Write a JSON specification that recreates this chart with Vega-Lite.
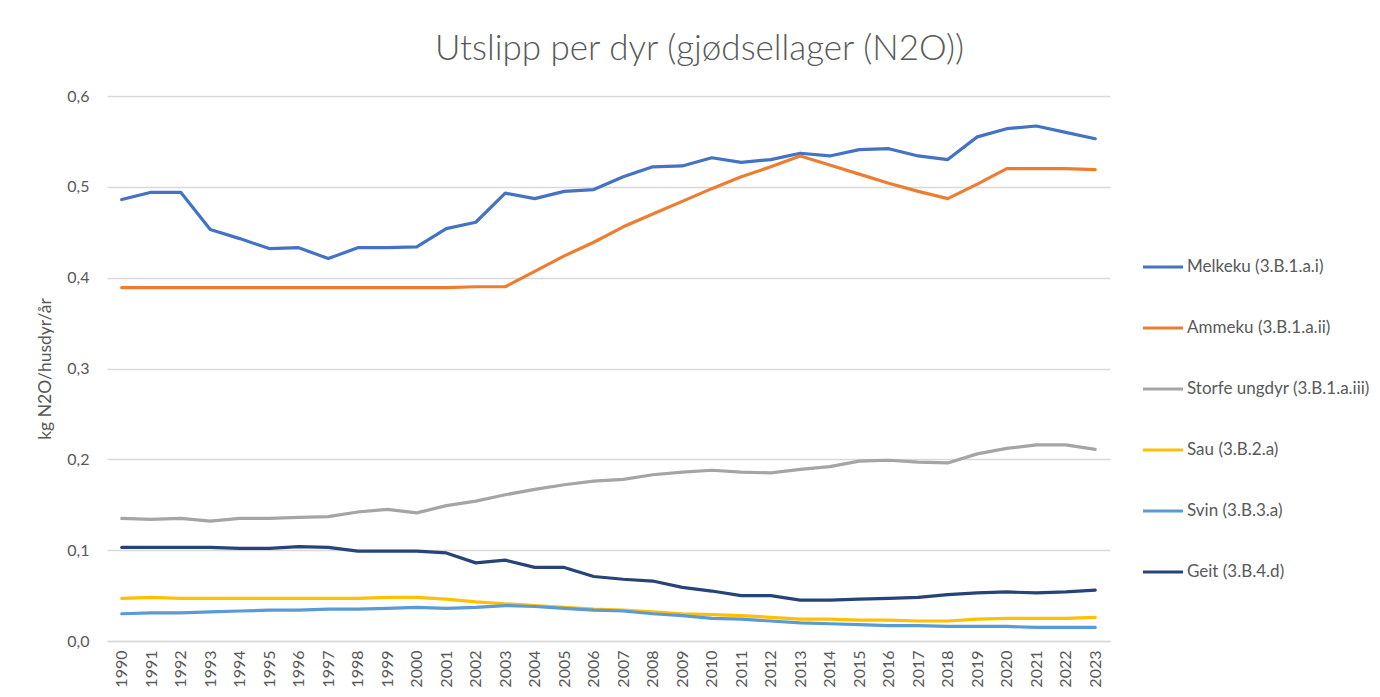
{
  "$schema": "https://vega.github.io/schema/vega-lite/v6.json",
  "width": 1003,
  "height": 545,
  "autosize": {"type": "none"},
  "padding": {"left": 107, "top": 96, "right": 270, "bottom": 56},
  "background": "white",
  "title": {
    "text": "Utslipp per dyr (gjødsellager (N2O))",
    "anchor": "middle",
    "frame": "group",
    "dx": 91,
    "offset": 21,
    "font": "Lato",
    "fontSize": 35,
    "fontWeight": 300,
    "color": "#595959"
  },
  "config": {
    "view": {"stroke": null},
    "font": "Lato"
  },
  "data": {
    "values": [
      {"year": "1990", "serie": "Melkeku (3.B.1.a.i)", "value": 0.486},
      {"year": "1991", "serie": "Melkeku (3.B.1.a.i)", "value": 0.494},
      {"year": "1992", "serie": "Melkeku (3.B.1.a.i)", "value": 0.494},
      {"year": "1993", "serie": "Melkeku (3.B.1.a.i)", "value": 0.453},
      {"year": "1994", "serie": "Melkeku (3.B.1.a.i)", "value": 0.443},
      {"year": "1995", "serie": "Melkeku (3.B.1.a.i)", "value": 0.432},
      {"year": "1996", "serie": "Melkeku (3.B.1.a.i)", "value": 0.433},
      {"year": "1997", "serie": "Melkeku (3.B.1.a.i)", "value": 0.421},
      {"year": "1998", "serie": "Melkeku (3.B.1.a.i)", "value": 0.433},
      {"year": "1999", "serie": "Melkeku (3.B.1.a.i)", "value": 0.433},
      {"year": "2000", "serie": "Melkeku (3.B.1.a.i)", "value": 0.434},
      {"year": "2001", "serie": "Melkeku (3.B.1.a.i)", "value": 0.454},
      {"year": "2002", "serie": "Melkeku (3.B.1.a.i)", "value": 0.461},
      {"year": "2003", "serie": "Melkeku (3.B.1.a.i)", "value": 0.493},
      {"year": "2004", "serie": "Melkeku (3.B.1.a.i)", "value": 0.487},
      {"year": "2005", "serie": "Melkeku (3.B.1.a.i)", "value": 0.495},
      {"year": "2006", "serie": "Melkeku (3.B.1.a.i)", "value": 0.497},
      {"year": "2007", "serie": "Melkeku (3.B.1.a.i)", "value": 0.511},
      {"year": "2008", "serie": "Melkeku (3.B.1.a.i)", "value": 0.522},
      {"year": "2009", "serie": "Melkeku (3.B.1.a.i)", "value": 0.523},
      {"year": "2010", "serie": "Melkeku (3.B.1.a.i)", "value": 0.532},
      {"year": "2011", "serie": "Melkeku (3.B.1.a.i)", "value": 0.527},
      {"year": "2012", "serie": "Melkeku (3.B.1.a.i)", "value": 0.530},
      {"year": "2013", "serie": "Melkeku (3.B.1.a.i)", "value": 0.537},
      {"year": "2014", "serie": "Melkeku (3.B.1.a.i)", "value": 0.534},
      {"year": "2015", "serie": "Melkeku (3.B.1.a.i)", "value": 0.541},
      {"year": "2016", "serie": "Melkeku (3.B.1.a.i)", "value": 0.542},
      {"year": "2017", "serie": "Melkeku (3.B.1.a.i)", "value": 0.534},
      {"year": "2018", "serie": "Melkeku (3.B.1.a.i)", "value": 0.530},
      {"year": "2019", "serie": "Melkeku (3.B.1.a.i)", "value": 0.555},
      {"year": "2020", "serie": "Melkeku (3.B.1.a.i)", "value": 0.564},
      {"year": "2021", "serie": "Melkeku (3.B.1.a.i)", "value": 0.567},
      {"year": "2022", "serie": "Melkeku (3.B.1.a.i)", "value": 0.560},
      {"year": "2023", "serie": "Melkeku (3.B.1.a.i)", "value": 0.553},

      {"year": "1990", "serie": "Ammeku (3.B.1.a.ii)", "value": 0.389},
      {"year": "1991", "serie": "Ammeku (3.B.1.a.ii)", "value": 0.389},
      {"year": "1992", "serie": "Ammeku (3.B.1.a.ii)", "value": 0.389},
      {"year": "1993", "serie": "Ammeku (3.B.1.a.ii)", "value": 0.389},
      {"year": "1994", "serie": "Ammeku (3.B.1.a.ii)", "value": 0.389},
      {"year": "1995", "serie": "Ammeku (3.B.1.a.ii)", "value": 0.389},
      {"year": "1996", "serie": "Ammeku (3.B.1.a.ii)", "value": 0.389},
      {"year": "1997", "serie": "Ammeku (3.B.1.a.ii)", "value": 0.389},
      {"year": "1998", "serie": "Ammeku (3.B.1.a.ii)", "value": 0.389},
      {"year": "1999", "serie": "Ammeku (3.B.1.a.ii)", "value": 0.389},
      {"year": "2000", "serie": "Ammeku (3.B.1.a.ii)", "value": 0.389},
      {"year": "2001", "serie": "Ammeku (3.B.1.a.ii)", "value": 0.389},
      {"year": "2002", "serie": "Ammeku (3.B.1.a.ii)", "value": 0.390},
      {"year": "2003", "serie": "Ammeku (3.B.1.a.ii)", "value": 0.390},
      {"year": "2004", "serie": "Ammeku (3.B.1.a.ii)", "value": 0.407},
      {"year": "2005", "serie": "Ammeku (3.B.1.a.ii)", "value": 0.424},
      {"year": "2006", "serie": "Ammeku (3.B.1.a.ii)", "value": 0.439},
      {"year": "2007", "serie": "Ammeku (3.B.1.a.ii)", "value": 0.456},
      {"year": "2008", "serie": "Ammeku (3.B.1.a.ii)", "value": 0.470},
      {"year": "2009", "serie": "Ammeku (3.B.1.a.ii)", "value": 0.484},
      {"year": "2010", "serie": "Ammeku (3.B.1.a.ii)", "value": 0.498},
      {"year": "2011", "serie": "Ammeku (3.B.1.a.ii)", "value": 0.511},
      {"year": "2012", "serie": "Ammeku (3.B.1.a.ii)", "value": 0.522},
      {"year": "2013", "serie": "Ammeku (3.B.1.a.ii)", "value": 0.534},
      {"year": "2014", "serie": "Ammeku (3.B.1.a.ii)", "value": 0.524},
      {"year": "2015", "serie": "Ammeku (3.B.1.a.ii)", "value": 0.514},
      {"year": "2016", "serie": "Ammeku (3.B.1.a.ii)", "value": 0.504},
      {"year": "2017", "serie": "Ammeku (3.B.1.a.ii)", "value": 0.495},
      {"year": "2018", "serie": "Ammeku (3.B.1.a.ii)", "value": 0.487},
      {"year": "2019", "serie": "Ammeku (3.B.1.a.ii)", "value": 0.503},
      {"year": "2020", "serie": "Ammeku (3.B.1.a.ii)", "value": 0.520},
      {"year": "2021", "serie": "Ammeku (3.B.1.a.ii)", "value": 0.520},
      {"year": "2022", "serie": "Ammeku (3.B.1.a.ii)", "value": 0.520},
      {"year": "2023", "serie": "Ammeku (3.B.1.a.ii)", "value": 0.519},

      {"year": "1990", "serie": "Storfe ungdyr (3.B.1.a.iii)", "value": 0.135},
      {"year": "1991", "serie": "Storfe ungdyr (3.B.1.a.iii)", "value": 0.134},
      {"year": "1992", "serie": "Storfe ungdyr (3.B.1.a.iii)", "value": 0.135},
      {"year": "1993", "serie": "Storfe ungdyr (3.B.1.a.iii)", "value": 0.132},
      {"year": "1994", "serie": "Storfe ungdyr (3.B.1.a.iii)", "value": 0.135},
      {"year": "1995", "serie": "Storfe ungdyr (3.B.1.a.iii)", "value": 0.135},
      {"year": "1996", "serie": "Storfe ungdyr (3.B.1.a.iii)", "value": 0.136},
      {"year": "1997", "serie": "Storfe ungdyr (3.B.1.a.iii)", "value": 0.137},
      {"year": "1998", "serie": "Storfe ungdyr (3.B.1.a.iii)", "value": 0.142},
      {"year": "1999", "serie": "Storfe ungdyr (3.B.1.a.iii)", "value": 0.145},
      {"year": "2000", "serie": "Storfe ungdyr (3.B.1.a.iii)", "value": 0.141},
      {"year": "2001", "serie": "Storfe ungdyr (3.B.1.a.iii)", "value": 0.149},
      {"year": "2002", "serie": "Storfe ungdyr (3.B.1.a.iii)", "value": 0.154},
      {"year": "2003", "serie": "Storfe ungdyr (3.B.1.a.iii)", "value": 0.161},
      {"year": "2004", "serie": "Storfe ungdyr (3.B.1.a.iii)", "value": 0.167},
      {"year": "2005", "serie": "Storfe ungdyr (3.B.1.a.iii)", "value": 0.172},
      {"year": "2006", "serie": "Storfe ungdyr (3.B.1.a.iii)", "value": 0.176},
      {"year": "2007", "serie": "Storfe ungdyr (3.B.1.a.iii)", "value": 0.178},
      {"year": "2008", "serie": "Storfe ungdyr (3.B.1.a.iii)", "value": 0.183},
      {"year": "2009", "serie": "Storfe ungdyr (3.B.1.a.iii)", "value": 0.186},
      {"year": "2010", "serie": "Storfe ungdyr (3.B.1.a.iii)", "value": 0.188},
      {"year": "2011", "serie": "Storfe ungdyr (3.B.1.a.iii)", "value": 0.186},
      {"year": "2012", "serie": "Storfe ungdyr (3.B.1.a.iii)", "value": 0.185},
      {"year": "2013", "serie": "Storfe ungdyr (3.B.1.a.iii)", "value": 0.189},
      {"year": "2014", "serie": "Storfe ungdyr (3.B.1.a.iii)", "value": 0.192},
      {"year": "2015", "serie": "Storfe ungdyr (3.B.1.a.iii)", "value": 0.198},
      {"year": "2016", "serie": "Storfe ungdyr (3.B.1.a.iii)", "value": 0.199},
      {"year": "2017", "serie": "Storfe ungdyr (3.B.1.a.iii)", "value": 0.197},
      {"year": "2018", "serie": "Storfe ungdyr (3.B.1.a.iii)", "value": 0.196},
      {"year": "2019", "serie": "Storfe ungdyr (3.B.1.a.iii)", "value": 0.206},
      {"year": "2020", "serie": "Storfe ungdyr (3.B.1.a.iii)", "value": 0.212},
      {"year": "2021", "serie": "Storfe ungdyr (3.B.1.a.iii)", "value": 0.216},
      {"year": "2022", "serie": "Storfe ungdyr (3.B.1.a.iii)", "value": 0.216},
      {"year": "2023", "serie": "Storfe ungdyr (3.B.1.a.iii)", "value": 0.211},

      {"year": "1990", "serie": "Sau (3.B.2.a)", "value": 0.047},
      {"year": "1991", "serie": "Sau (3.B.2.a)", "value": 0.048},
      {"year": "1992", "serie": "Sau (3.B.2.a)", "value": 0.047},
      {"year": "1993", "serie": "Sau (3.B.2.a)", "value": 0.047},
      {"year": "1994", "serie": "Sau (3.B.2.a)", "value": 0.047},
      {"year": "1995", "serie": "Sau (3.B.2.a)", "value": 0.047},
      {"year": "1996", "serie": "Sau (3.B.2.a)", "value": 0.047},
      {"year": "1997", "serie": "Sau (3.B.2.a)", "value": 0.047},
      {"year": "1998", "serie": "Sau (3.B.2.a)", "value": 0.047},
      {"year": "1999", "serie": "Sau (3.B.2.a)", "value": 0.048},
      {"year": "2000", "serie": "Sau (3.B.2.a)", "value": 0.048},
      {"year": "2001", "serie": "Sau (3.B.2.a)", "value": 0.046},
      {"year": "2002", "serie": "Sau (3.B.2.a)", "value": 0.043},
      {"year": "2003", "serie": "Sau (3.B.2.a)", "value": 0.041},
      {"year": "2004", "serie": "Sau (3.B.2.a)", "value": 0.039},
      {"year": "2005", "serie": "Sau (3.B.2.a)", "value": 0.037},
      {"year": "2006", "serie": "Sau (3.B.2.a)", "value": 0.035},
      {"year": "2007", "serie": "Sau (3.B.2.a)", "value": 0.034},
      {"year": "2008", "serie": "Sau (3.B.2.a)", "value": 0.032},
      {"year": "2009", "serie": "Sau (3.B.2.a)", "value": 0.030},
      {"year": "2010", "serie": "Sau (3.B.2.a)", "value": 0.029},
      {"year": "2011", "serie": "Sau (3.B.2.a)", "value": 0.028},
      {"year": "2012", "serie": "Sau (3.B.2.a)", "value": 0.026},
      {"year": "2013", "serie": "Sau (3.B.2.a)", "value": 0.024},
      {"year": "2014", "serie": "Sau (3.B.2.a)", "value": 0.024},
      {"year": "2015", "serie": "Sau (3.B.2.a)", "value": 0.023},
      {"year": "2016", "serie": "Sau (3.B.2.a)", "value": 0.023},
      {"year": "2017", "serie": "Sau (3.B.2.a)", "value": 0.022},
      {"year": "2018", "serie": "Sau (3.B.2.a)", "value": 0.022},
      {"year": "2019", "serie": "Sau (3.B.2.a)", "value": 0.024},
      {"year": "2020", "serie": "Sau (3.B.2.a)", "value": 0.025},
      {"year": "2021", "serie": "Sau (3.B.2.a)", "value": 0.025},
      {"year": "2022", "serie": "Sau (3.B.2.a)", "value": 0.025},
      {"year": "2023", "serie": "Sau (3.B.2.a)", "value": 0.026},

      {"year": "1990", "serie": "Svin (3.B.3.a)", "value": 0.030},
      {"year": "1991", "serie": "Svin (3.B.3.a)", "value": 0.031},
      {"year": "1992", "serie": "Svin (3.B.3.a)", "value": 0.031},
      {"year": "1993", "serie": "Svin (3.B.3.a)", "value": 0.032},
      {"year": "1994", "serie": "Svin (3.B.3.a)", "value": 0.033},
      {"year": "1995", "serie": "Svin (3.B.3.a)", "value": 0.034},
      {"year": "1996", "serie": "Svin (3.B.3.a)", "value": 0.034},
      {"year": "1997", "serie": "Svin (3.B.3.a)", "value": 0.035},
      {"year": "1998", "serie": "Svin (3.B.3.a)", "value": 0.035},
      {"year": "1999", "serie": "Svin (3.B.3.a)", "value": 0.036},
      {"year": "2000", "serie": "Svin (3.B.3.a)", "value": 0.037},
      {"year": "2001", "serie": "Svin (3.B.3.a)", "value": 0.036},
      {"year": "2002", "serie": "Svin (3.B.3.a)", "value": 0.037},
      {"year": "2003", "serie": "Svin (3.B.3.a)", "value": 0.039},
      {"year": "2004", "serie": "Svin (3.B.3.a)", "value": 0.038},
      {"year": "2005", "serie": "Svin (3.B.3.a)", "value": 0.036},
      {"year": "2006", "serie": "Svin (3.B.3.a)", "value": 0.034},
      {"year": "2007", "serie": "Svin (3.B.3.a)", "value": 0.033},
      {"year": "2008", "serie": "Svin (3.B.3.a)", "value": 0.030},
      {"year": "2009", "serie": "Svin (3.B.3.a)", "value": 0.028},
      {"year": "2010", "serie": "Svin (3.B.3.a)", "value": 0.025},
      {"year": "2011", "serie": "Svin (3.B.3.a)", "value": 0.024},
      {"year": "2012", "serie": "Svin (3.B.3.a)", "value": 0.022},
      {"year": "2013", "serie": "Svin (3.B.3.a)", "value": 0.020},
      {"year": "2014", "serie": "Svin (3.B.3.a)", "value": 0.019},
      {"year": "2015", "serie": "Svin (3.B.3.a)", "value": 0.018},
      {"year": "2016", "serie": "Svin (3.B.3.a)", "value": 0.017},
      {"year": "2017", "serie": "Svin (3.B.3.a)", "value": 0.017},
      {"year": "2018", "serie": "Svin (3.B.3.a)", "value": 0.016},
      {"year": "2019", "serie": "Svin (3.B.3.a)", "value": 0.016},
      {"year": "2020", "serie": "Svin (3.B.3.a)", "value": 0.016},
      {"year": "2021", "serie": "Svin (3.B.3.a)", "value": 0.015},
      {"year": "2022", "serie": "Svin (3.B.3.a)", "value": 0.015},
      {"year": "2023", "serie": "Svin (3.B.3.a)", "value": 0.015},

      {"year": "1990", "serie": "Geit (3.B.4.d)", "value": 0.103},
      {"year": "1991", "serie": "Geit (3.B.4.d)", "value": 0.103},
      {"year": "1992", "serie": "Geit (3.B.4.d)", "value": 0.103},
      {"year": "1993", "serie": "Geit (3.B.4.d)", "value": 0.103},
      {"year": "1994", "serie": "Geit (3.B.4.d)", "value": 0.102},
      {"year": "1995", "serie": "Geit (3.B.4.d)", "value": 0.102},
      {"year": "1996", "serie": "Geit (3.B.4.d)", "value": 0.104},
      {"year": "1997", "serie": "Geit (3.B.4.d)", "value": 0.103},
      {"year": "1998", "serie": "Geit (3.B.4.d)", "value": 0.099},
      {"year": "1999", "serie": "Geit (3.B.4.d)", "value": 0.099},
      {"year": "2000", "serie": "Geit (3.B.4.d)", "value": 0.099},
      {"year": "2001", "serie": "Geit (3.B.4.d)", "value": 0.097},
      {"year": "2002", "serie": "Geit (3.B.4.d)", "value": 0.086},
      {"year": "2003", "serie": "Geit (3.B.4.d)", "value": 0.089},
      {"year": "2004", "serie": "Geit (3.B.4.d)", "value": 0.081},
      {"year": "2005", "serie": "Geit (3.B.4.d)", "value": 0.081},
      {"year": "2006", "serie": "Geit (3.B.4.d)", "value": 0.071},
      {"year": "2007", "serie": "Geit (3.B.4.d)", "value": 0.068},
      {"year": "2008", "serie": "Geit (3.B.4.d)", "value": 0.066},
      {"year": "2009", "serie": "Geit (3.B.4.d)", "value": 0.059},
      {"year": "2010", "serie": "Geit (3.B.4.d)", "value": 0.055},
      {"year": "2011", "serie": "Geit (3.B.4.d)", "value": 0.050},
      {"year": "2012", "serie": "Geit (3.B.4.d)", "value": 0.050},
      {"year": "2013", "serie": "Geit (3.B.4.d)", "value": 0.045},
      {"year": "2014", "serie": "Geit (3.B.4.d)", "value": 0.045},
      {"year": "2015", "serie": "Geit (3.B.4.d)", "value": 0.046},
      {"year": "2016", "serie": "Geit (3.B.4.d)", "value": 0.047},
      {"year": "2017", "serie": "Geit (3.B.4.d)", "value": 0.048},
      {"year": "2018", "serie": "Geit (3.B.4.d)", "value": 0.051},
      {"year": "2019", "serie": "Geit (3.B.4.d)", "value": 0.053},
      {"year": "2020", "serie": "Geit (3.B.4.d)", "value": 0.054},
      {"year": "2021", "serie": "Geit (3.B.4.d)", "value": 0.053},
      {"year": "2022", "serie": "Geit (3.B.4.d)", "value": 0.054},
      {"year": "2023", "serie": "Geit (3.B.4.d)", "value": 0.056}
    ]
  },
  "mark": {"type": "line", "strokeWidth": 3.2, "strokeCap": "round", "strokeJoin": "round"},
  "encoding": {
    "x": {
      "field": "year",
      "type": "ordinal",
      "scale": {"type": "point", "padding": 0.5},
      "axis": {
        "title": null,
        "labelAngle": -90,
        "labelFont": "Lato",
        "labelFontSize": 16,
        "labelColor": "#595959",
        "labelPadding": 9,
        "ticks": false,
        "grid": false,
        "domainColor": "#d9d9d9",
        "domainWidth": 1.5
      }
    },
    "y": {
      "field": "value",
      "type": "quantitative",
      "scale": {"domain": [0, 0.6], "nice": false},
      "axis": {
        "title": "kg N2O/husdyr/år",
        "titleFont": "Lato",
        "titleFontSize": 17.5,
        "titleFontWeight": "normal",
        "titleColor": "#595959",
        "titlePadding": 12,
        "values": [0, 0.1, 0.2, 0.3, 0.4, 0.5, 0.6],
        "labelExpr": "replace(format(datum.value, '.1f'), '.', ',')",
        "labelFont": "Lato",
        "labelFontSize": 16,
        "labelColor": "#595959",
        "labelPadding": 18,
        "ticks": false,
        "domain": false,
        "gridColor": "#d9d9d9",
        "gridWidth": 1.5
      }
    },
    "color": {
      "field": "serie",
      "type": "nominal",
      "scale": {
        "domain": ["Melkeku (3.B.1.a.i)", "Ammeku (3.B.1.a.ii)", "Storfe ungdyr (3.B.1.a.iii)", "Sau (3.B.2.a)", "Svin (3.B.3.a)", "Geit (3.B.4.d)"],
        "range": ["#4472C4", "#ED7D31", "#A5A5A5", "#FFC000", "#5B9BD5", "#264478"]
      },
      "legend": {
        "title": null,
        "orient": "none",
        "legendX": 1034,
        "legendY": 149,
        "padding": 0,
        "symbolType": "stroke",
        "symbolSize": 1600,
        "symbolStrokeWidth": 3.2,
        "rowPadding": 31,
        "labelOffset": 2,
        "labelFont": "Lato",
        "labelFontSize": 17,
        "labelColor": "#595959",
        "labelLimit": 300
      }
    }
  }
}
